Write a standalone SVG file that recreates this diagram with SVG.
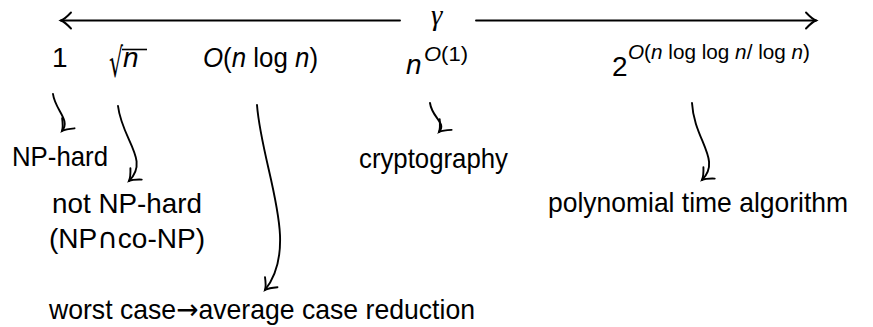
<svg xmlns="http://www.w3.org/2000/svg" width="873" height="327" viewBox="0 0 873 327">
<style>
text{font-family:"Liberation Sans",Arial,sans-serif;font-size:28px;fill:#000}
.i{font-style:italic}
.sup{font-size:21px}
.m{font-family:"DejaVu Sans",sans-serif}
.g{font-family:"Liberation Serif","DejaVu Serif",serif;font-style:italic;font-size:29px}
.c{fill:none;stroke:#000;stroke-width:1.9;stroke-linecap:round}
</style>
<defs>
<marker id="ah" markerUnits="userSpaceOnUse" markerWidth="26" markerHeight="26" refX="0" refY="0" orient="auto" overflow="visible">
<path d="M-10,-8 C-5.5,-3.2 -1.8,-0.7 0,0 C-1.8,0.7 -5.5,3.2 -10,8" fill="none" stroke="#000" stroke-width="1.9" stroke-linecap="round"/>
</marker>
</defs>
<g id="axis">
<text class="g" x="431" y="25">γ</text>
</g>
<g id="connectors">
<path class="c" d="M400,20.5 L61,20.5" marker-end="url(#ah)"/>
<path class="c" d="M476,20.5 L816,20.5" marker-end="url(#ah)"/>
<path class="c" d="M53,94 C55,110 71,120 62,131" marker-end="url(#ah)"/>
<path class="c" d="M118,106 C122,140 150,160 129,181" marker-end="url(#ah)"/>
<path class="c" d="M257,105 C262,170 301,245 265,290" marker-end="url(#ah)"/>
<path class="c" d="M430,103 C432,118 447,123 439,132" marker-end="url(#ah)"/>
<path class="c" d="M692,103 C694,140 722,160 702,180" marker-end="url(#ah)"/>
</g>
<g id="n1"><text x="52" y="67">1</text></g>
<g id="nsqrt"><text class="m" x="109" y="77" style="font-size:40px" textLength="14" lengthAdjust="spacingAndGlyphs">√</text><line x1="122" y1="49.5" x2="147" y2="49.5" stroke="#000" stroke-width="1.6"/><text class="i" x="123" y="67">n</text></g>
<g id="nlog"><text x="203" y="67" textLength="115" lengthAdjust="spacingAndGlyphs"><tspan class="i">O</tspan>(<tspan class="i">n</tspan> log <tspan class="i">n</tspan>)</text></g>
<g id="npoly"><text x="406" y="74"><tspan class="i">n</tspan></text><text class="sup" x="424" y="61" textLength="44" lengthAdjust="spacingAndGlyphs"><tspan class="i">O</tspan>(1)</text></g>
<g id="nexp"><text x="612" y="76">2</text><text class="sup" x="628" y="59" textLength="182" lengthAdjust="spacingAndGlyphs"><tspan class="i">O</tspan>(<tspan class="i">n</tspan> log log <tspan class="i">n</tspan>/ log <tspan class="i">n</tspan>)</text></g>
<g id="nphard"><text x="12" y="166" textLength="96" lengthAdjust="spacingAndGlyphs">NP-hard</text></g>
<g id="notnphard"><text x="52" y="213" textLength="150" lengthAdjust="spacingAndGlyphs">not NP-hard</text><text x="49" y="248" textLength="156" lengthAdjust="spacingAndGlyphs">(NP<tspan class="m">∩</tspan>co-NP)</text></g>
<g id="worst"><text x="49" y="319" textLength="426" lengthAdjust="spacingAndGlyphs">worst case<tspan class="m">→</tspan>average case reduction</text></g>
<g id="crypto"><text x="359" y="168" textLength="149" lengthAdjust="spacingAndGlyphs">cryptography</text></g>
<g id="poly"><text x="548" y="212" textLength="300" lengthAdjust="spacingAndGlyphs">polynomial time algorithm</text></g>
</svg>
